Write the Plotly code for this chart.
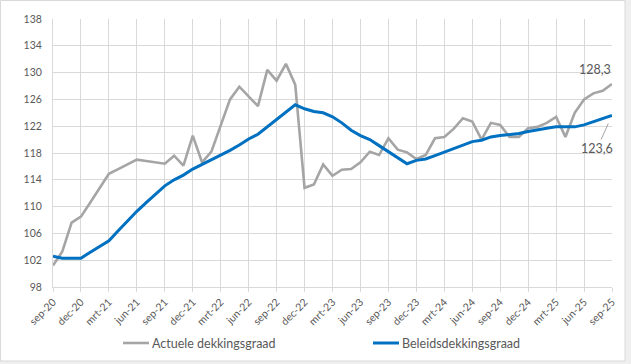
import plotly.graph_objects as go

tick_labels = ["sep-20", "dec-20", "mrt-21", "jun-21", "sep-21", "dec-21", "mrt-22", "jun-22",
               "sep-22", "dec-22", "mrt-23", "jun-23", "sep-23", "dec-23", "mrt-24", "jun-24",
               "sep-24", "dec-24", "mrt-25", "jun-25", "sep-25"]

actuele = [101.2, 103.3, 107.6, 108.5, 110.6, 112.8, 114.9, 115.6, 116.3, 117.0,
           116.8, 116.6, 116.4, 117.6, 116.1, 120.6, 116.6, 118.2, 122.2, 126.0,
           127.9, 126.4, 125.0, 130.4, 128.8, 131.3, 128.2, 112.8, 113.3, 116.3,
           114.6, 115.5, 115.6, 116.6, 118.2, 117.7, 120.2, 118.5, 118.1, 117.1,
           117.7, 120.2, 120.4, 121.6, 123.2, 122.7, 120.0, 122.5, 122.2, 120.4,
           120.4, 121.7, 121.9, 122.5, 123.4, 120.4, 124.0, 126.0, 126.9, 127.3, 128.3]

beleids = [102.6, 102.3, 102.3, 102.3, 103.2, 104.0, 104.9, 106.4, 107.9, 109.3,
           110.6, 111.9, 113.1, 114.0, 114.7, 115.6, 116.3, 116.9, 117.6, 118.4,
           119.2, 120.1, 120.8, 121.9, 123.1, 124.1, 125.2, 124.6, 124.2, 124.0,
           123.4, 122.5, 121.4, 120.6, 120.0, 119.1, 118.2, 117.3, 116.4, 116.9,
           117.1, 117.6, 118.1, 118.6, 119.2, 119.7, 119.9, 120.4, 120.6, 120.7,
           120.9, 121.2, 121.5, 121.7, 121.9, 121.9, 121.9, 122.2, 122.7, 123.1, 123.6]

series_names = ["Actuele dekkingsgraad", "Beleidsdekkingsgraad"]
y_ticks = [98, 102, 106, 110, 114, 118, 122, 126, 130, 134, 138]

months = list(range(len(actuele)))
tick_pos = months[::3]

W, H = 631, 364
ML, MR, MT, MB = 53, 19, 19, 77
PW, PH = W - ML - MR, H - MT - MB

def px(x):
    return (x - ML) / PW

def py(y):
    return (H - MB - y) / PH

FONT = "Lato"
TXT = "#595959"
GRID = "#d9d9d9"
GRAY = "#a5a5a5"
BLUE = "#0070c0"

fig = go.Figure()
fig.add_trace(go.Scatter(x=months, y=actuele, mode="lines", name=series_names[0],
                         line=dict(color=GRAY, width=2.6)))
fig.add_trace(go.Scatter(x=months, y=beleids, mode="lines", name=series_names[1],
                         line=dict(color=BLUE, width=3)))

shapes = [
    dict(type="rect", xref="paper", yref="paper", x0=px(0.5), x1=px(625), y0=py(0.5), y1=py(361),
         fillcolor="white", line=dict(color=GRID, width=1), layer="below"),
    dict(type="line", xref="paper", yref="paper", x0=px(123), x1=px(149), y0=py(343), y1=py(343),
         line=dict(color=GRAY, width=2.6)),
    dict(type="line", xref="paper", yref="paper", x0=px(373), x1=px(399), y0=py(343), y1=py(343),
         line=dict(color=BLUE, width=3)),
]

annotations = [
    dict(xref="paper", yref="paper", x=px(150), y=py(343), text=series_names[0], showarrow=False,
         xanchor="left", yanchor="middle", font=dict(family=FONT, size=12.5, color=TXT)),
    dict(xref="paper", yref="paper", x=px(400), y=py(343), text=series_names[1], showarrow=False,
         xanchor="left", yanchor="middle", font=dict(family=FONT, size=12.5, color=TXT)),
    dict(x=months[-1], y=actuele[-1], text=f"{actuele[-1]:.1f}".replace(".", ","), showarrow=False,
         xshift=-17, yshift=14, font=dict(family=FONT, size=12.5, color=TXT)),
    dict(x=months[-1], y=beleids[-1], text=f"{beleids[-1]:.1f}".replace(".", ","), showarrow=True,
         arrowhead=0, arrowwidth=0.8, arrowcolor="#8c8c8c", ax=-15, ay=33, standoff=9,
         font=dict(family=FONT, size=12.5, color=TXT)),
]

fig.update_layout(
    width=W, height=H,
    margin=dict(l=ML, r=MR, t=MT, b=MB),
    paper_bgcolor="#efefef",
    plot_bgcolor="white",
    showlegend=False,
    shapes=shapes,
    annotations=annotations,
    font=dict(family=FONT, color=TXT),
    hovermode=False,
)
fig.update_xaxes(range=[0, 60], tickvals=tick_pos, ticktext=tick_labels, tickangle=-45,
                 showgrid=True, gridcolor=GRID, gridwidth=1, zeroline=False,
                 showline=True, linecolor=GRID, linewidth=1,
                 ticks="outside", ticklen=4, tickcolor=GRID,
                 tickfont=dict(family=FONT, size=10.5, color=TXT))
fig.update_yaxes(range=[98, 138], tickvals=y_ticks, showgrid=True, gridcolor=GRID, gridwidth=1,
                 zeroline=False, showline=True, linecolor=GRID, linewidth=1, ticks="",
                 ticklabelstandoff=8,
                 tickfont=dict(family=FONT, size=10.5, color=TXT))

fig.write_html("out.html", config={"displayModeBar": False, "staticPlot": True},
               post_script="document.body.style.margin='0';document.body.style.overflow='hidden';")
